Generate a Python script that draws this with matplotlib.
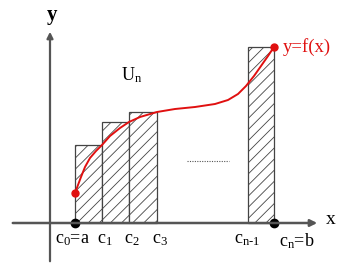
import matplotlib

matplotlib.use("Agg")
import matplotlib.pyplot as plt
from matplotlib.patches import Rectangle

# partition points (x) and upper-sum heights
left_edges = [75, 102, 129, 248]
widths = [27, 27, 28, 26]
heights = [78, 101, 111, 176]

# points on y = f(x)
curve_x = [75, 78, 81, 85, 90, 96, 102, 110, 120, 129, 140, 157, 175, 195,
           215, 228, 238, 246, 254, 261, 268, 274]
curve_y = [30, 38, 46, 56, 65, 72, 78, 87, 95, 101, 106, 111, 114, 116,
           119, 123, 129, 137, 147, 157, 167, 176]

tick_x = [72, 105, 132, 160, 247, 297]
tick_labels = [r"c$_0$=a", r"c$_1$", r"c$_2$", r"c$_3$", "c$_{n\u20101}$", r"c$_n$=b"]

plt.rcParams["font.family"] = ["Liberation Serif", "DejaVu Serif"]
plt.rcParams["mathtext.fontset"] = "custom"
plt.rcParams["mathtext.rm"] = "Liberation Serif"
plt.rcParams["mathtext.it"] = "Liberation Serif"
plt.rcParams["hatch.color"] = "#444444"
plt.rcParams["hatch.linewidth"] = 0.6

fig = plt.figure(figsize=(3.37, 2.64), dpi=100)
ax = fig.add_axes([0, 0, 1, 1])
ax.set_xlim(0, 337)
ax.set_ylim(-41, 223)
ax.axis("off")

# axes with arrows
ax.annotate("", xy=(320, 0), xytext=(10, 0),
            arrowprops=dict(arrowstyle="-|>", color="#555555", lw=1.8,
                            mutation_scale=10))
ax.annotate("", xy=(50, 194), xytext=(50, -41),
            arrowprops=dict(arrowstyle="-|>", color="#555555", lw=1.6,
                            mutation_scale=9))

for x0, w, h in zip(left_edges, widths, heights):
    ax.add_patch(Rectangle((x0, 0), w, h, facecolor="white",
                           edgecolor="#444444", lw=0.9, hatch="///"))

ax.plot(curve_x, curve_y, color="#e01010", lw=1.4)
ax.plot(curve_x[0], curve_y[0], "o", color="#e01010", ms=5)
ax.plot(curve_x[-1], curve_y[-1], "o", color="#e01010", ms=5)
ax.plot([curve_x[0], curve_x[-1]], [0, 0], "o", color="black", ms=6)

ax.plot([187, 229], [62, 62], ls=(0, (1, 1.2)), color="#555555", lw=0.8)

for x, lab in zip(tick_x, tick_labels):
    ax.text(x, -8, lab, ha="center", va="top", fontsize=13)

ax.text(52, 208, "y", ha="center", va="center", fontsize=15, fontweight="bold")
ax.text(331, 4, "x", ha="center", va="center", fontsize=14)
ax.text(132, 148, r"U$_n$", ha="center", va="center", fontsize=13)
ax.text(283, 176, "y=f(x)", ha="left", va="center", fontsize=13.5,
        color="#e01010")

fig.savefig("out.png", dpi=100)
